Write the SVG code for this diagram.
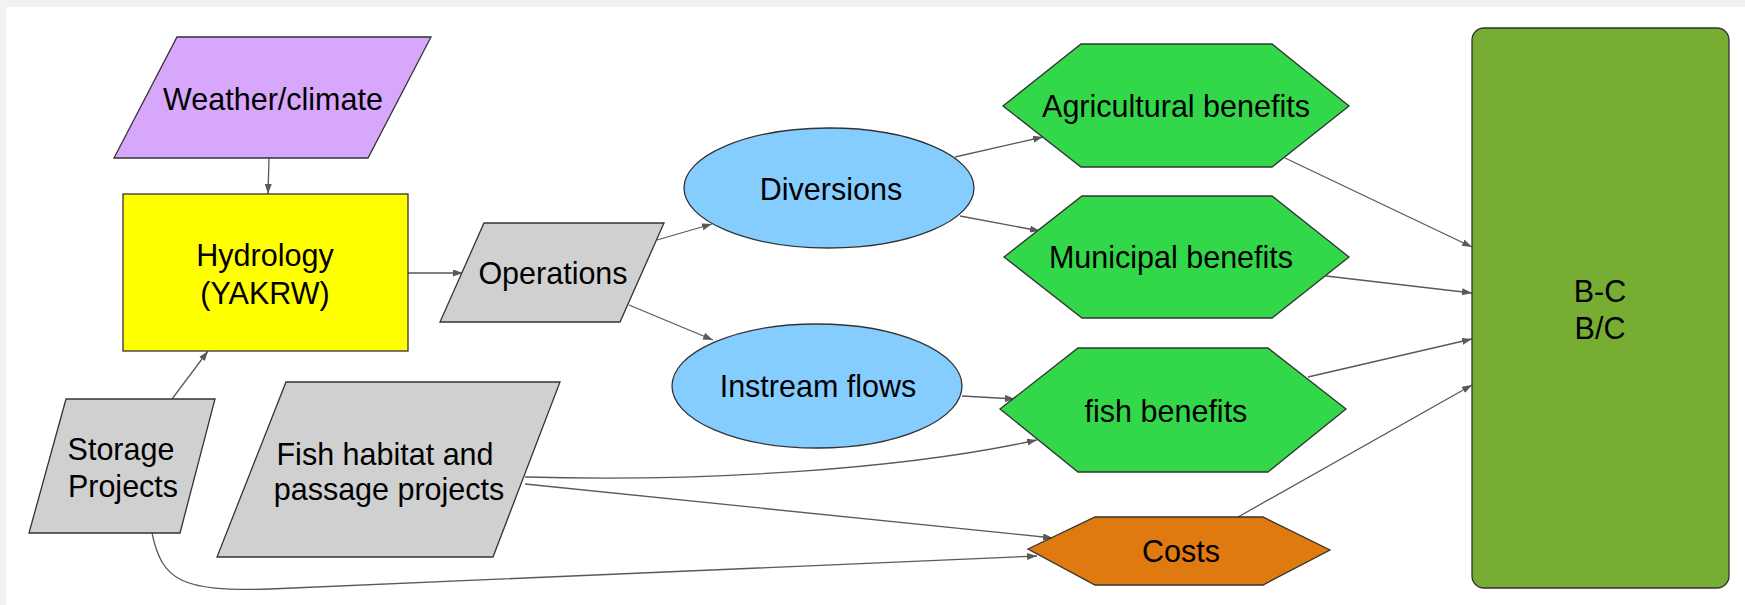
<svg xmlns="http://www.w3.org/2000/svg" width="1745" height="605" viewBox="0 0 1745 605">
<style>
.node{stroke:#333;stroke-width:1.3;stroke-linejoin:miter}
.lbl{font-family:"Liberation Sans",Arial,sans-serif;font-size:30.5px;fill:#000;text-anchor:middle}
.edge{fill:none;stroke:#595959;stroke-width:1.3}
</style>
<defs>
<marker id="arr" markerUnits="userSpaceOnUse" markerWidth="11" markerHeight="8" refX="10" refY="3.5" orient="auto">
<path d="M0,0 L10,3.5 L0,7 z" fill="#595959"/>
</marker>
</defs>
<rect x="0" y="0" width="1745" height="605" fill="#f2f2f2"/>
<rect x="6" y="7" width="1739" height="598" fill="#ffffff"/>

<g id="connectors">
<path class="edge" d="M269,158 L268,194" marker-end="url(#arr)"/>
<path class="edge" d="M408,273 L463,273" marker-end="url(#arr)"/>
<path class="edge" d="M172,399 L208,351" marker-end="url(#arr)"/>
<path class="edge" d="M657,240 L712,224" marker-end="url(#arr)"/>
<path class="edge" d="M629,305 L713,340" marker-end="url(#arr)"/>
<path class="edge" d="M955,157 L1043,137" marker-end="url(#arr)"/>
<path class="edge" d="M960,216 L1040,231" marker-end="url(#arr)"/>
<path class="edge" d="M962,396 L1015,399" marker-end="url(#arr)"/>
<path class="edge" d="M525,477 C700,482 900,470 1037,440" marker-end="url(#arr)"/>
<path class="edge" d="M525,484 L1053,538" marker-end="url(#arr)"/>
<path class="edge" d="M152,533 C162,580 180,592 270,589 L1037,556" marker-end="url(#arr)"/>
<path class="edge" d="M1285,158 L1472,247" marker-end="url(#arr)"/>
<path class="edge" d="M1326,276 L1472,293" marker-end="url(#arr)"/>
<path class="edge" d="M1308,377 L1472,339" marker-end="url(#arr)"/>
<path class="edge" d="M1238,517 L1472,385" marker-end="url(#arr)"/>
</g>

<g id="weather">
<polygon class="node" points="177,37 431,37 368,158 114,158" fill="#d7a7fc"/>
<text class="lbl" x="273" y="110">Weather/climate</text>
</g>

<g id="hydrology">
<rect class="node" x="123" y="194" width="285" height="157" fill="#ffff00"/>
<text class="lbl" x="265" y="266">Hydrology</text>
<text class="lbl" x="265" y="304">(YAKRW)</text>
</g>

<g id="operations">
<polygon class="node" points="484,223 664,223 620,322 440,322" fill="#d0d0d0"/>
<text class="lbl" x="553" y="284">Operations</text>
</g>

<g id="storage">
<polygon class="node" points="66,399 215,399 180,533 29,533" fill="#d0d0d0"/>
<text class="lbl" x="121" y="460">Storage</text>
<text class="lbl" x="123" y="497">Projects</text>
</g>

<g id="fishhabitat">
<polygon class="node" points="286,382 560,382 493,557 217,557" fill="#d0d0d0"/>
<text class="lbl" x="385" y="465">Fish habitat and</text>
<text class="lbl" x="389" y="500">passage projects</text>
</g>

<g id="diversions">
<ellipse class="node" cx="829" cy="188" rx="145" ry="60" fill="#86cdff"/>
<text class="lbl" x="831" y="200">Diversions</text>
</g>

<g id="instream">
<ellipse class="node" cx="817" cy="386" rx="145" ry="62" fill="#86cdff"/>
<text class="lbl" x="818" y="397">Instream flows</text>
</g>

<g id="agricultural">
<polygon class="node" points="1003,106 1081,44 1272,44 1349,106 1272,167 1081,167" fill="#32d74a"/>
<text class="lbl" x="1176" y="117">Agricultural benefits</text>
</g>

<g id="municipal">
<polygon class="node" points="1004,257 1082,196 1272,196 1349,257 1272,318 1082,318" fill="#32d74a"/>
<text class="lbl" x="1171" y="268">Municipal benefits</text>
</g>

<g id="fishbenefits">
<polygon class="node" points="1000,409 1078,348 1268,348 1346,409 1268,472 1078,472" fill="#32d74a"/>
<text class="lbl" x="1166" y="422">fish benefits</text>
</g>

<g id="costs">
<polygon class="node" points="1028,549 1095,517 1263,517 1330,550 1263,585 1095,585" fill="#de7a10"/>
<text class="lbl" x="1181" y="562">Costs</text>
</g>

<g id="bc">
<rect class="node" x="1472" y="28" width="257" height="560" rx="12" ry="12" fill="#77ad33"/>
<text class="lbl" x="1600" y="302">B-C</text>
<text class="lbl" x="1600" y="339">B/C</text>
</g>
</svg>
